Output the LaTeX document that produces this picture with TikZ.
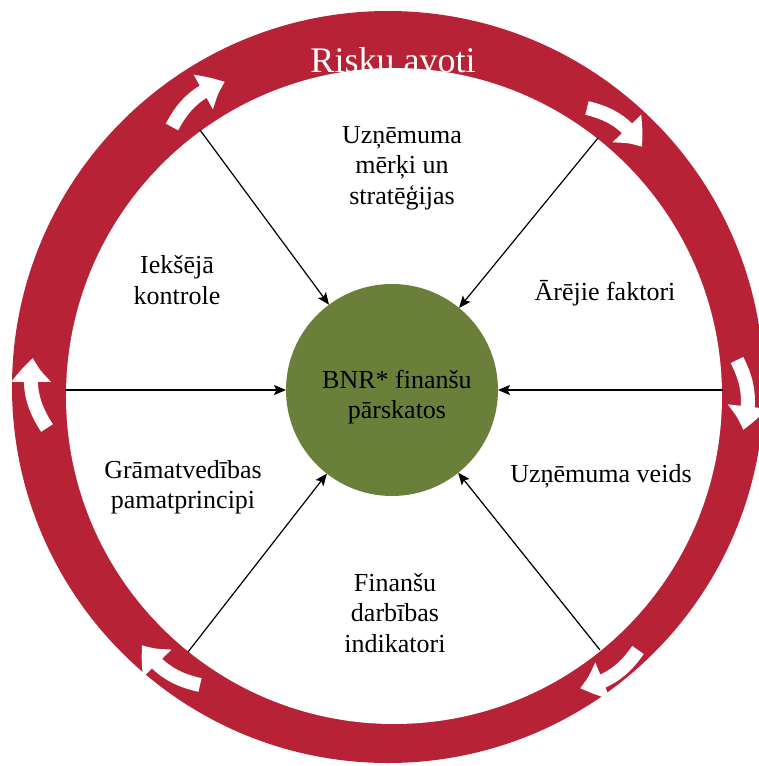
\documentclass[tikz,border=0pt]{standalone}
\usepackage{fontspec}
\setmainfont{Liberation Serif}
\usetikzlibrary{arrows.meta,bending}
\definecolor{ringred}{RGB}{184,34,54}
\definecolor{coregreen}{RGB}{106,127,58}
\begin{document}
\begin{tikzpicture}[x=1pt,y=1pt,
  lbl/.style={font=\fontsize{26}{30.5}\selectfont, align=center, inner sep=0pt},
  feed/.style={draw=black, line width=1.2pt, -{Stealth[length=12pt,width=10pt,inset=2.5pt]}},
  turn/.style={draw=white, line width=14pt, -{Triangle[length=25pt,width=37pt,bend]}}
]
\clip (-392,-376) rectangle (367,390);
% ring
\fill[ringred] (-4,3) circle[radius=376pt];
\node[font=\fontsize{36}{40}\selectfont, text=white, anchor=base, inner sep=0pt] (title) at (1,317) {Risku avoti};
\fill[white] (2,-6) circle[radius=328pt];
% clockwise arrows in the ring
\coordinate (t1) at (-220,263); \coordinate (h1) at (-167,308);
\coordinate (t2) at (195,282);  \coordinate (h2) at (250,243);
\coordinate (t3) at (345,30);   \coordinate (h3) at (351,-40);
\coordinate (t4) at (246,-260); \coordinate (h4) at (188,-298);
\coordinate (t5) at (-192,-295);\coordinate (h5) at (-250,-255);
\coordinate (t6) at (-345,-38); \coordinate (h6) at (-359,32);
\foreach \i in {1,...,6}
  \draw[turn] (t\i) to[bend left=22] (h\i);
% centre
\node[circle, fill=coregreen, minimum size=212pt, inner sep=0pt, outer sep=0pt] (bnr) at (0,0) {};
\node[lbl] (bnrtxt) at (5,-7) {BNR* finanšu\\pārskatos};
% sources
\node[lbl] (goals) at (10,222) {Uzņēmuma\\mērķi un\\stratēģijas};
\node[lbl] (control) at (-215,110) {Iekšējā\\kontrole};
\node[lbl] (external) at (213,97) {Ārējie faktori};
\node[lbl] (principles) at (-209,-97) {Grāmatvedības\\pamatprincipi};
\node[lbl] (type) at (209,-86) {Uzņēmuma veids};
\node[lbl] (indicators) at (3,-223) {Finanšu\\darbības\\indikatori};
% connector start points on the inner edge of the ring
\coordinate (s1) at (-192,260);
\coordinate (s2) at (206,252);
\coordinate (s3) at (-327,0);
\coordinate (s4) at (331,0);
\coordinate (s5) at (-204,-262);
\coordinate (s6) at (208,-260);
\foreach \i in {1,...,6}
  \draw[feed] (s\i) -- (bnr);
\end{tikzpicture}
\end{document}
